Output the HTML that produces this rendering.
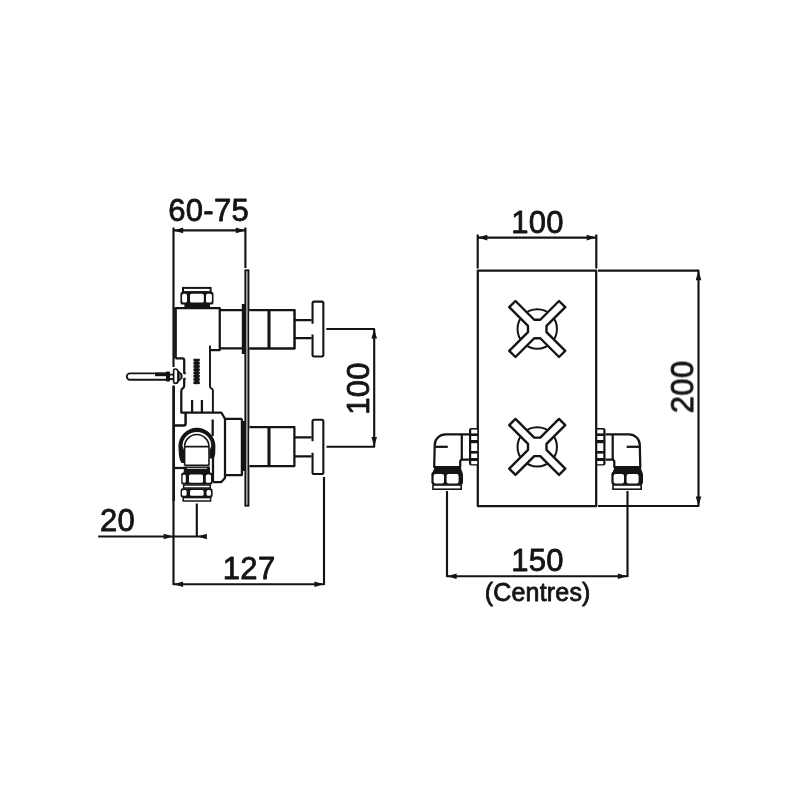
<!DOCTYPE html>
<html>
<head>
<meta charset="utf-8">
<title>Dimension drawing</title>
<style>
html,body{margin:0;padding:0;background:#fff;}
body{width:800px;height:800px;overflow:hidden;font-family:"Liberation Sans",sans-serif;}
svg{display:block;}
</style>
</head>
<body>
<svg width="800" height="800" viewBox="0 0 800 800">
<rect x="0" y="0" width="800" height="800" fill="#ffffff"/>
<g fill="none" stroke="#141414" stroke-width="2.25" stroke-linecap="butt" stroke-linejoin="round">
<path d="M219.75,310 H294.4 V348.4 H219.75"/>
<path d="M175.5,308 H219.75 V350 H210"/>
<path d="M175.5,307.2 V358.4" stroke-width="2.7"/>
<path d="M175.5,358.4 H182.2 Q184.2,358.4 184.2,360.4 V373 H185.8"/>
<path d="M185.6,378.8 H184.2 V385.5 Q184.2,387.6 182.6,388.4 Q181.3,389.2 181.3,391 V412.5"/>
<path d="M210,345.6 V386.8 Q210,388 211.4,388.4 Q212.9,389 212.9,390.5 V412.5" stroke-width="1.9"/>
<path d="M180.6,412.5 H221.25 L225,418.75 H241.9"/>
<path d="M192.1,400 V412.5 M201.9,400 V412.5"/>
<path d="M225,418.75 V478 L221.25,482 H213"/>
<path d="M225,475 H241.9 V418.75"/>
<path d="M212.7,419.4 V436 M213,457 V482"/>
<path d="M185.6,412.5 V423.6 Q185.6,425.6 183.6,425.6 H174.4" stroke-width="2.5"/>
<path d="M174.4,468 H184"/>
<path d="M173.75,386 V501" stroke-width="2.4"/>
</g>
<path d="M196.6,358.8 V384.4" stroke="#141414" stroke-width="6.4" stroke-dasharray="2.5 0.75" fill="none"/>
<path d="M196.6,359 V384.2" stroke="#141414" stroke-width="4.2" fill="none"/>
<rect x="241.8" y="304" width="3.9" height="50" fill="#141414"/>
<rect x="241.8" y="421" width="3.9" height="50" fill="#141414"/>
<rect x="245.3" y="270.3" width="3.2" height="235.4" fill="#bdbdbd" stroke="#141414" stroke-width="1.8"/>
<g fill="none" stroke="#141414" stroke-width="2.25" stroke-linejoin="round"><path d="M249.4,310 H294.4 V348.4 H249.4" fill="#fff"/><path d="M269,310 V348.4" stroke-width="3.1"/><path d="M294.4,320 H311.6 M294.4,338 H311.6"/><path d="M312.55,323.8 V303.25 Q312.55,301.65 314.1,301.65 H321.8 Q323.35,301.65 323.35,303.25 V354.84999999999997 Q323.35,356.45 321.8,356.45 H314.1 Q312.55,356.45 312.55,354.84999999999997 V334.4" stroke-width="2.1"/></g>
<g fill="none" stroke="#141414" stroke-width="2.25" stroke-linejoin="round"><path d="M249.4,427 H294.4 V466 H249.4" fill="#fff"/><path d="M269,427 V466" stroke-width="3.1"/><path d="M294.4,437.4 H311.6 M294.4,456.4 H311.6"/><path d="M312.55,441.2 V421.40000000000003 Q312.55,419.8 314.1,419.8 H321.8 Q323.35,419.8 323.35,421.40000000000003 V472.4 Q323.35,474 321.8,474 H314.1 Q312.55,474 312.55,472.4 V452.79999999999995" stroke-width="2.1"/></g>
<rect x="183" y="287.9" width="27.6" height="4.2" fill="#fff" stroke="#141414" stroke-width="2"/>
<rect x="180.4" y="291.8" width="33.10" height="12.80" rx="2.2" fill="#141414"/><rect x="182.1" y="293.8" width="4.90" height="8.80" rx="1.6" fill="#fff"/><rect x="190" y="293.8" width="13.80" height="8.80" rx="1.6" fill="#fff"/><rect x="206" y="293.8" width="5.90" height="8.80" rx="1.6" fill="#fff"/>
<rect x="184.4" y="304" width="25.6" height="4" fill="#141414"/>
<g stroke="#141414" stroke-width="1.9" fill="#fff" stroke-linejoin="round">
<path d="M167,373.4 H130 A3.2,3.2 0 0 0 130,379.8 H167"/>
<rect x="155" y="372.6" width="12" height="3.6" fill="#141414" stroke="none"/>
<rect x="166.9" y="372.4" width="2.2" height="8.2" fill="#141414"/>
<path d="M169.4,374.6 H173.4 M169.4,379 H173.4"/>
<path d="M173.6,370.6 Q173.6,369 175.2,369 Q178,369 178,372 V380.4 Q178,383.4 175.2,383.4 Q173.6,383.4 173.6,381.8 Z" stroke-width="1.7"/>
<path d="M178.6,371.6 L181.8,374.6 V378 L178.6,381 Z" fill="#777" stroke-width="1.5"/>
</g>
<g fill="none" stroke="#141414" stroke-linecap="round">
<path d="M181.6,463 Q179.4,460 178.9,455 L178.4,446.3 A18.5,18.5 0 0 1 215.4,446.3 L215.2,454 Q215,457.5 213,458.5 L209.6,458.5 V450 L211.3,446.3 A14.4,14.4 0 0 0 182.5,446.3 L184,450 V463 Z" fill="#141414" stroke="none"/>
<path d="M184.6,465.6 V446.7 A12.2,12.2 0 0 1 209,446.7 V465.6" stroke-width="1.6" stroke-linecap="butt"/>
<path d="M184.6,446.6 H209 M184.6,465.4 H209" stroke-width="1.6" stroke-linecap="butt"/>
</g>
<rect x="183.75" y="466.6" width="26.25" height="6.4" fill="#141414"/>
<path d="M187,468.4 H207" stroke="#fff" stroke-width="0.8"/>
<rect x="181.2" y="472.4" width="31.40" height="12.20" rx="2.2" fill="#141414"/><rect x="182.6" y="474.4" width="3.20" height="8.40" rx="1.6" fill="#fff"/><rect x="189" y="474.4" width="14.00" height="8.40" rx="1.6" fill="#fff"/><rect x="205.8" y="474.4" width="5.20" height="8.40" rx="1.6" fill="#fff"/>
<rect x="183.6" y="485" width="26.6" height="3" fill="#fff" stroke="#141414" stroke-width="1.5"/>
<rect x="180.6" y="488.2" width="32.00" height="9.40" rx="2.2" fill="#141414"/><rect x="182" y="490" width="4.60" height="5.80" rx="1.6" fill="#fff"/><rect x="190" y="490" width="13.60" height="5.80" rx="1.6" fill="#fff"/><rect x="206.6" y="490" width="4.40" height="5.80" rx="1.6" fill="#fff"/>
<rect x="183.2" y="497.6" width="27.4" height="3.4" fill="#fff" stroke="#141414" stroke-width="1.5"/>
<g fill="none" stroke="#141414" stroke-width="2.15">
<path d="M173.5,227.5 V367 M173.5,385.6 V584.9"/>
<path d="M245.4,227.5 V268"/>
<path d="M173.5,230.4 H245.4"/>
<path d="M326.3,329 H375 M326.5,446.7 H375 M374.2,329 V446.7"/>
<path d="M324,477 V584.9 M173.5,584.2 H324"/>
<path d="M98.2,536.5 H205.6 M196.8,503.5 V536.5"/>
</g>
<path d="M173.50,230.40 L183.10,227.60 L183.10,233.20Z" fill="#141414" stroke="none"/>
<path d="M245.40,230.40 L235.80,233.20 L235.80,227.60Z" fill="#141414" stroke="none"/>
<path d="M374.20,329.00 L377.00,338.60 L371.40,338.60Z" fill="#141414" stroke="none"/>
<path d="M374.20,446.70 L371.40,437.10 L377.00,437.10Z" fill="#141414" stroke="none"/>
<path d="M173.50,584.20 L183.10,581.40 L183.10,587.00Z" fill="#141414" stroke="none"/>
<path d="M324.00,584.20 L314.40,587.00 L314.40,581.40Z" fill="#141414" stroke="none"/>
<path d="M173.30,536.50 L163.70,539.30 L163.70,533.70Z" fill="#141414" stroke="none"/>
<path d="M197.30,536.50 L206.90,533.70 L206.90,539.30Z" fill="#141414" stroke="none"/>
<g fill="none" stroke="#141414" stroke-width="2.25" stroke-linejoin="round">
<rect x="477.8" y="270.5" width="118.4" height="235.5"/>
<circle cx="537.25" cy="329" r="19.7" stroke-width="2"/>
<path d="M540.28,319.75 L559.03,301.00 L565.25,307.22 L546.50,325.97 L546.50,332.03 L565.25,350.78 L559.03,357.00 L540.28,338.25 L534.22,338.25 L515.47,357.00 L509.25,350.78 L528.00,332.03 L528.00,325.97 L509.25,307.22 L515.47,301.00 L534.22,319.75Z" fill="#fff" stroke-width="2.4"/>
<circle cx="537.25" cy="446.9" r="19.7" stroke-width="2"/>
<path d="M540.28,437.65 L559.03,418.90 L565.25,425.12 L546.50,443.87 L546.50,449.93 L565.25,468.68 L559.03,474.90 L540.28,456.15 L534.22,456.15 L515.47,474.90 L509.25,468.68 L528.00,449.93 L528.00,443.87 L509.25,425.12 L515.47,418.90 L534.22,437.65Z" fill="#fff" stroke-width="2.4"/>
</g>
<g fill="none" stroke="#141414" stroke-width="2.25" stroke-linejoin="round"><path d="M469,434.4 H445.5 A10.8,10.8 0 0 0 434.7,445.2 L434.2,467 H460.2 V462 Q460.2,459.5 462.6,459.5 H469" fill="#fff"/><path d="M461.8,434.5 V459.5"/><path d="M478,427.9 H471 Q469,427.9 469,429.9 V463.6 Q469,465.6 471,465.6 H478 Z" fill="#141414" stroke="none"/><rect x="471.2" y="429.6" width="6" height="3.80" fill="#fff" stroke="none"/><rect x="471.2" y="436" width="6" height="4.00" fill="#fff" stroke="none"/><rect x="471.2" y="443.2" width="6" height="7.80" fill="#fff" stroke="none"/><rect x="471.2" y="453.6" width="6" height="4.40" fill="#fff" stroke="none"/><rect x="471.2" y="461" width="6" height="3.20" fill="#fff" stroke="none"/><path d="M434.8,446.8 H447.8"/></g>
<g transform="translate(1074.5,0) scale(-1,1)" fill="none" stroke="#141414" stroke-width="2.25" stroke-linejoin="round"><path d="M469,434.4 H445.5 A10.8,10.8 0 0 0 434.7,445.2 L434.2,467 H460.2 V462 Q460.2,459.5 462.6,459.5 H469" fill="#fff"/><path d="M461.8,434.5 V459.5"/><path d="M478,427.9 H471 Q469,427.9 469,429.9 V463.6 Q469,465.6 471,465.6 H478 Z" fill="#141414" stroke="none"/><rect x="471.2" y="429.6" width="6" height="3.80" fill="#fff" stroke="none"/><rect x="471.2" y="436" width="6" height="4.00" fill="#fff" stroke="none"/><rect x="471.2" y="443.2" width="6" height="7.80" fill="#fff" stroke="none"/><rect x="471.2" y="453.6" width="6" height="4.40" fill="#fff" stroke="none"/><rect x="471.2" y="461" width="6" height="3.20" fill="#fff" stroke="none"/><path d="M434.8,446.8 H447.8"/></g>
<g transform="translate(0,0)"><path d="M435,466.4 H460.4 L462.4,472.6 H432.4 Z" fill="#141414"/><rect x="431.4" y="471.8" width="31.60" height="13.00" rx="2.4" fill="#141414"/><rect x="433.6" y="474" width="10.40" height="9.40" rx="2" fill="#fff"/><rect x="446.6" y="474" width="12.00" height="9.40" rx="2" fill="#fff"/><rect x="433" y="485" width="28.2" height="4.2" fill="#fff" stroke="#141414" stroke-width="1.6"/></g>
<g transform="translate(180,0)"><path d="M435,466.4 H460.4 L462.4,472.6 H432.4 Z" fill="#141414"/><rect x="431.4" y="471.8" width="31.60" height="13.00" rx="2.4" fill="#141414"/><rect x="433.6" y="474" width="10.40" height="9.40" rx="2" fill="#fff"/><rect x="446.6" y="474" width="12.00" height="9.40" rx="2" fill="#fff"/><rect x="433" y="485" width="28.2" height="4.2" fill="#fff" stroke="#141414" stroke-width="1.6"/></g>
<g fill="none" stroke="#141414" stroke-width="2.15">
<path d="M477.7,234.5 V268.4 M596.3,234.5 V268.4 M477.7,237.6 H596.3"/>
<path d="M598,270.6 H699.3 M598,506 H699.3 M698.5,270.6 V506"/>
<path d="M447,491 V577 M627.5,491 V577 M447,576.2 H627.5"/>
</g>
<path d="M477.70,237.60 L487.30,234.80 L487.30,240.40Z" fill="#141414" stroke="none"/>
<path d="M596.30,237.60 L586.70,240.40 L586.70,234.80Z" fill="#141414" stroke="none"/>
<path d="M698.50,270.60 L701.30,280.20 L695.70,280.20Z" fill="#141414" stroke="none"/>
<path d="M698.50,506.00 L695.70,496.40 L701.30,496.40Z" fill="#141414" stroke="none"/>
<path d="M447.00,576.20 L456.60,573.40 L456.60,579.00Z" fill="#141414" stroke="none"/>
<path d="M627.50,576.20 L617.90,579.00 L617.90,573.40Z" fill="#141414" stroke="none"/>
<g font-family="'Liberation Sans', sans-serif" fill="#141414" stroke="#141414" stroke-width="0.8" stroke-linejoin="round" style="will-change:transform">
<text id="t1" x="168.2" y="220.9" font-size="31" letter-spacing="0.3" text-anchor="start">60-75</text>
<text id="t2" x="368.7" y="414.8" font-size="31" letter-spacing="0.3" text-anchor="start" transform="rotate(-90 368.7 414.8)">100</text>
<text id="t3" x="99.9" y="531.3" font-size="31" letter-spacing="0.3" text-anchor="start">20</text>
<text id="t4" x="222.8" y="578.6" font-size="31" letter-spacing="0.3" text-anchor="start">127</text>
<text id="t5" x="511.2" y="232.6" font-size="31" letter-spacing="0.3" text-anchor="start">100</text>
<text id="t6" x="693.3" y="413.2" font-size="31" letter-spacing="0.3" text-anchor="start" transform="rotate(-90 693.3 413.2)">200</text>
<text id="t7" x="511.2" y="570.8" font-size="31" letter-spacing="0.3" text-anchor="start">150</text>
<text id="t8" x="484.8" y="601.4" font-size="25" letter-spacing="0.18" text-anchor="start">(Centres)</text>
</g>
</svg>
</body>
</html>
